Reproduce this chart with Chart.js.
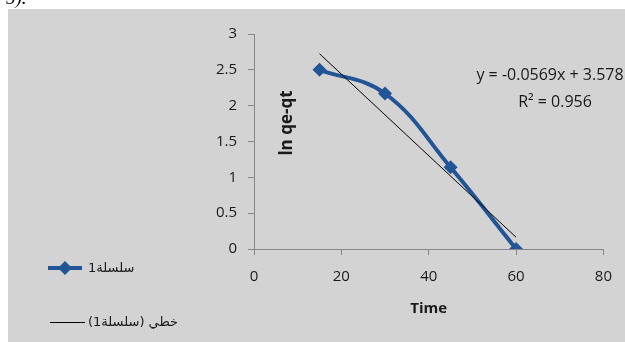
<!DOCTYPE html>
<html>
<head>
<meta charset="utf-8">
<script src="https://cdn.jsdelivr.net/npm/chart.js@4.4.1/dist/chart.umd.min.js"></script>
<style>
  html, body { margin: 0; padding: 0; background: #ffffff; }
  #wrap { position: relative; width: 625px; height: 342px; overflow: hidden; }
  #cut { position: absolute; left: 6px; top: -13px; font: italic 19px 'Liberation Serif', serif; color: #000; }
  canvas { display: block; }
</style>
</head>
<body>
<div id="wrap"><canvas id="c" width="625" height="342"></canvas><div id="cut">5).</div></div>
<script>
// Sampling times and ln(qe - qt) values
const times = [15, 30, 45, 60];
const lnValues = [2.50, 2.17, 1.14, 0.00];

// Linear trendline as reported on the chart
const trendSlope = -0.0569;
const trendIntercept = 3.578;
const rSquared = 0.956;

// Axis ranges and labels
const xTicks = [0, 20, 40, 60, 80];
const yTicks = [0, 0.5, 1, 1.5, 2, 2.5, 3];
const xTitle = 'Time';
const yTitle = 'ln qe-qt';
const seriesName = 'سلسلة1';
const trendName = 'خطي (سلسلة1)';
const equationText = 'y = ' + trendSlope + 'x + ' + trendIntercept;
const r2Text = 'R\u00B2 = ' + rSquared;

const SERIES_COLOR = '#215596';
const AXIS_COLOR = '#868686';
const TEXT_COLOR = '#1a1a1a';
const LATIN = "'Open Sans', 'Noto Sans', sans-serif";
const ARABIC = "'DejaVu Sans', sans-serif";

const seriesPoints = times.map((t, i) => ({ x: t, y: lnValues[i] }));
const trendX = [times[0], times[times.length - 1]];
const trendPoints = trendX.map(x => ({ x: x, y: trendSlope * x + trendIntercept }));

// Gray panel, rotated axis title inside the plot, equation, x title and legend
const decorations = {
  id: 'decorations',
  beforeDraw(chart) {
    const ctx = chart.ctx;
    ctx.save();
    ctx.fillStyle = '#d3d3d3';
    ctx.fillRect(8, 9, chart.width - 8, chart.height - 9);
    ctx.restore();
  },
  afterDraw(chart) {
    const ctx = chart.ctx;
    const area = chart.chartArea;
    ctx.save();
    ctx.fillStyle = TEXT_COLOR;

    // y axis title, rotated, just inside the plot
    ctx.save();
    ctx.translate(area.left + 33, 123);
    ctx.rotate(-Math.PI / 2);
    ctx.font = "bold 17px " + LATIN;
    ctx.textAlign = 'center';
    ctx.textBaseline = 'middle';
    ctx.fillText(yTitle, 0, 0);
    ctx.restore();

    // x axis title
    ctx.font = "bold 15px " + LATIN;
    ctx.textAlign = 'center';
    ctx.textBaseline = 'middle';
    ctx.fillText(xTitle, (area.left + area.right) / 2, 309);

    // trendline equation
    ctx.font = "16px " + LATIN;
    ctx.fillText(equationText, 550, 75);
    ctx.fillText(r2Text, 555, 102);

    // legend
    ctx.strokeStyle = SERIES_COLOR;
    ctx.lineWidth = 4;
    ctx.beginPath();
    ctx.moveTo(48, 268);
    ctx.lineTo(82, 268);
    ctx.stroke();
    ctx.fillStyle = SERIES_COLOR;
    ctx.beginPath();
    ctx.moveTo(65, 261); ctx.lineTo(72, 268); ctx.lineTo(65, 275); ctx.lineTo(58, 268);
    ctx.closePath();
    ctx.fill();

    ctx.strokeStyle = '#000000';
    ctx.lineWidth = 1;
    ctx.beginPath();
    ctx.moveTo(50, 322.5);
    ctx.lineTo(85, 322.5);
    ctx.stroke();

    ctx.fillStyle = TEXT_COLOR;
    ctx.font = "13px " + ARABIC;
    ctx.direction = 'rtl';
    ctx.textAlign = 'left';
    ctx.textBaseline = 'middle';
    ctx.fillText(seriesName, 88, 269);
    ctx.fillText(trendName, 88, 323);
    ctx.restore();
  }
};

new Chart(document.getElementById('c'), {
  type: 'line',
  data: {
    datasets: [
      {
        label: seriesName,
        data: seriesPoints,
        borderColor: SERIES_COLOR,
        backgroundColor: SERIES_COLOR,
        borderWidth: 4,
        tension: 0.4,
        pointStyle: 'rectRot',
        pointRadius: 7,
        pointHoverRadius: 7,
        pointBorderWidth: 0,
        order: 1
      },
      {
        label: trendName,
        data: trendPoints,
        borderColor: '#000000',
        borderWidth: 1,
        tension: 0,
        pointRadius: 0,
        order: 0
      }
    ]
  },
  options: {
    responsive: false,
    animation: false,
    devicePixelRatio: 1,
    layout: { padding: { left: 0, right: 16, top: 34, bottom: 0 } },
    plugins: {
      legend: { display: false },
      tooltip: { enabled: false }
    },
    scales: {
      x: {
        type: 'linear',
        min: xTicks[0],
        max: xTicks[xTicks.length - 1],
        afterBuildTicks: s => { s.ticks = xTicks.map(v => ({ value: v })); },
        afterFit: s => { s.height = 93; },
        border: { color: AXIS_COLOR, width: 1 },
        grid: { drawOnChartArea: false, drawTicks: true, tickLength: 6, color: AXIS_COLOR },
        ticks: { padding: 13, color: TEXT_COLOR, font: { family: LATIN, size: 15 }, callback: v => String(v) }
      },
      y: {
        type: 'linear',
        min: yTicks[0],
        max: yTicks[yTicks.length - 1],
        afterBuildTicks: s => { s.ticks = yTicks.map(v => ({ value: v })); },
        afterFit: s => { s.width = 254; },
        border: { color: AXIS_COLOR, width: 1 },
        grid: { drawOnChartArea: false, drawTicks: true, tickLength: 6, color: AXIS_COLOR },
        ticks: { padding: 11, color: TEXT_COLOR, font: { family: LATIN, size: 15 }, callback: v => String(v) }
      }
    }
  },
  plugins: [decorations]
});
</script>
</body>
</html>
